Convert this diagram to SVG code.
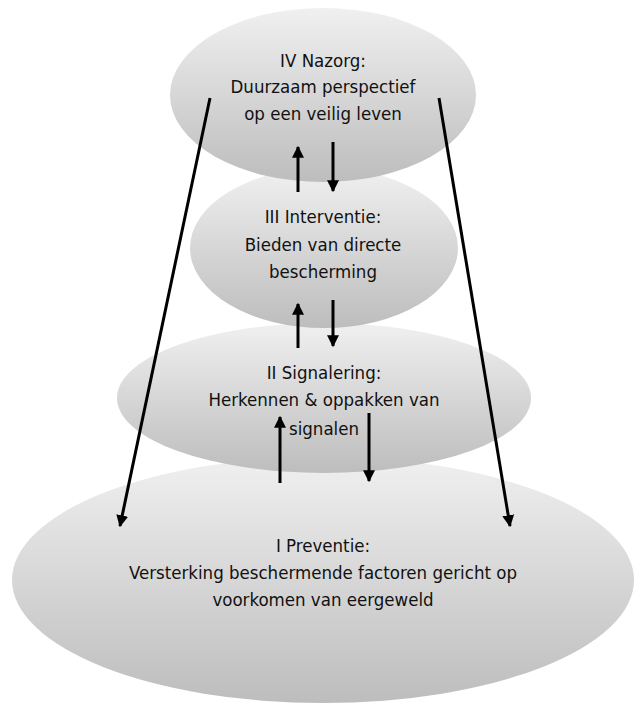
<svg xmlns="http://www.w3.org/2000/svg" width="635" height="706" viewBox="0 0 635 706">
<style>
.lbl{font-family:"DejaVu Sans Condensed","DejaVu Sans",sans-serif;font-size:18.5px;fill:#111;text-anchor:middle}
.arr{stroke:#000;stroke-width:3;fill:none;marker-end:url(#ah)}
</style>
<defs>
<linearGradient id="g" x1="0" y1="0" x2="0" y2="1">
<stop offset="0" stop-color="#f0f0f0"/>
<stop offset="1" stop-color="#bdbdbd"/>
</linearGradient>
<marker id="ah" viewBox="0 0 10 10" refX="9" refY="5" markerWidth="4" markerHeight="4.5" orient="auto" markerUnits="strokeWidth">
<path d="M0,0 L10,5 L0,10 Z" fill="#000"/>
</marker>
</defs>
<rect width="635" height="706" fill="#fff"/>
<g id="node-I">
<ellipse cx="323" cy="580" rx="311" ry="123" fill="url(#g)"/>
<text class="lbl" x="323" y="552">I Preventie:</text>
<text class="lbl" x="323" y="579">Versterking beschermende factoren gericht op</text>
<text class="lbl" x="323" y="606">voorkomen van eergeweld</text>
</g>
<g id="node-II">
<ellipse cx="324" cy="398" rx="207" ry="75" fill="url(#g)"/>
<text class="lbl" x="324" y="379">II Signalering:</text>
<text class="lbl" x="324" y="406">Herkennen &amp; oppakken van</text>
<text class="lbl" x="324" y="435">signalen</text>
</g>
<g id="node-III">
<ellipse cx="324" cy="248" rx="134" ry="80" fill="url(#g)"/>
<text class="lbl" x="323" y="223">III Interventie:</text>
<text class="lbl" x="323" y="251">Bieden van directe</text>
<text class="lbl" x="323" y="278">bescherming</text>
</g>
<g id="node-IV">
<ellipse cx="323" cy="95" rx="153" ry="87" fill="url(#g)"/>
<text class="lbl" x="323" y="67">IV Nazorg:</text>
<text class="lbl" x="323" y="93">Duurzaam perspectief</text>
<text class="lbl" x="323" y="120">op een veilig leven</text>
</g>
<g id="connectors">
<line class="arr" x1="210" y1="98" x2="120" y2="526"/>
<line class="arr" x1="439" y1="98" x2="510" y2="526"/>
<line class="arr" x1="298" y1="192" x2="298" y2="147"/>
<line class="arr" x1="333" y1="142" x2="333" y2="191"/>
<line class="arr" x1="298" y1="348" x2="298" y2="304"/>
<line class="arr" x1="333" y1="300" x2="333" y2="346"/>
<line class="arr" x1="280" y1="483" x2="280" y2="417"/>
<line class="arr" x1="369" y1="413" x2="369" y2="481"/>
</g>
</svg>
